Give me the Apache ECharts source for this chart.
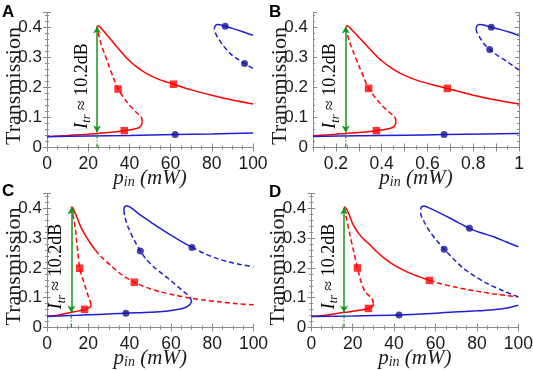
<!DOCTYPE html>
<html><head><meta charset="utf-8">
<script src="https://cdn.jsdelivr.net/npm/echarts@6/dist/echarts.min.js"></script>
<style>html,body{margin:0;padding:0;background:#fff}#c{width:533px;height:370px}</style>
</head><body><div id="c"></div>
<script>
// ---------- Panel A (p_in in mW) ----------
const aRedLow = [[0,0.037],[10,0.040],[20,0.044],[24.3,0.047],[30,0.050],[37.5,0.056],[42,0.061],[44.5,0.066],[45.6,0.072],[46.1,0.080],[46.2,0.087]];
const aRedMid = [[46.2,0.087],[46,0.097],[45.2,0.106],[42.9,0.12],[39,0.15],[34.5,0.195],[32,0.237],[29.9,0.275],[27.8,0.315],[25.9,0.353],[24.8,0.385],[24.3,0.405]];
const aRedUp = [[24.3,0.405],[25,0.405],[26,0.400],[27.5,0.388],[29.5,0.372],[31.5,0.356],[34,0.335],[37,0.311],[40,0.289],[44,0.266],[48,0.248],[54,0.228],[61.4,0.211],[70,0.192],[80,0.174],[90,0.158],[100,0.145]];
const aBlueLow = [[0,0.036],[20,0.038],[40,0.040],[62.2,0.043],[80,0.045],[100,0.048]];
const aBlueMid = [[100,0.264],[95.9,0.28],[92,0.297],[89,0.313],[85.5,0.34],[83,0.366],[81.6,0.384],[81.2,0.396]];
const aBlueUp = [[81.2,0.396],[81.6,0.405],[82.6,0.41],[84,0.409],[86.5,0.404],[90,0.397],[95,0.386],[100,0.374]];
const aRedMarks = [[37.5,0.056],[34.5,0.195],[61.4,0.211]];
const aBlueMarks = [[62.2,0.043],[86.5,0.404],[95.9,0.28]];
// ---------- Panel B ----------
const bRedLow = [[0.1,0.039],[0.2,0.044],[0.243,0.047],[0.3,0.050],[0.377,0.056],[0.42,0.061],[0.445,0.066],[0.456,0.072],[0.461,0.080],[0.462,0.087]];
const bRedMid = [[0.462,0.087],[0.46,0.097],[0.452,0.106],[0.429,0.12],[0.39,0.15],[0.343,0.197],[0.32,0.237],[0.299,0.275],[0.278,0.315],[0.259,0.353],[0.248,0.385],[0.243,0.405]];
const bRedUp = [[0.243,0.405],[0.25,0.405],[0.26,0.400],[0.275,0.388],[0.295,0.372],[0.315,0.356],[0.34,0.335],[0.37,0.311],[0.40,0.289],[0.44,0.266],[0.48,0.248],[0.54,0.228],[0.614,0.211],[0.687,0.197],[0.8,0.174],[0.9,0.158],[1,0.145]];
const bBlueLow = [[0.1,0.037],[0.3,0.039],[0.5,0.041],[0.673,0.043],[0.85,0.045],[1,0.047]];
const bBlueMid = [[1,0.258],[0.95,0.285],[0.9,0.31],[0.872,0.327],[0.85,0.343],[0.83,0.365],[0.816,0.384],[0.812,0.396]];
const bBlueUp = [[0.812,0.396],[0.816,0.405],[0.826,0.41],[0.84,0.409],[0.879,0.401],[0.92,0.393],[0.96,0.384],[1,0.373]];
const bRedMarks = [[0.377,0.056],[0.343,0.197],[0.687,0.197]];
const bBlueMarks = [[0.673,0.043],[0.879,0.401],[0.872,0.327]];
// ---------- Panel C ----------
const cRedLow = [[0,0.037],[5,0.041],[11.8,0.051],[15,0.055],[18.2,0.061],[20,0.065],[21,0.070],[21.3,0.076]];
const cRedMid = [[21.3,0.076],[21.1,0.084],[20.6,0.092],[19.6,0.113],[18.5,0.137],[17.1,0.168],[15.8,0.199],[15,0.25],[14.2,0.3],[13.7,0.333],[12.8,0.37],[12.1,0.395],[11.8,0.405]];
const cRedUp = [[11.8,0.405],[12.3,0.404],[13.2,0.392],[14.5,0.37],[16.1,0.342],[18.5,0.31],[21,0.283],[23.4,0.26]];
const cRedUpDash = [[23.4,0.26],[26.5,0.236],[30.6,0.21],[36,0.178],[42.3,0.152],[48,0.135],[54.8,0.12],[61,0.11],[67.8,0.101],[75,0.093],[83.9,0.086],[92,0.08],[100,0.076]];
const cBlueLow = [[0,0.037],[15,0.041],[25,0.044],[38.2,0.048],[50,0.051],[56,0.054],[61,0.058],[64.5,0.062],[67.3,0.068],[69.2,0.077],[70,0.088]];
const cBlueMid = [[70,0.088],[69.6,0.097],[68.3,0.109],[65.3,0.126],[59.7,0.159],[55.5,0.182],[51.6,0.204],[48,0.23],[45.2,0.257],[42.5,0.29],[39.5,0.333],[37.8,0.37],[37.2,0.394]];
const cBlueUp = [[37.2,0.394],[37.5,0.405],[38.5,0.409],[40.5,0.403],[45.2,0.378],[50,0.355],[54.8,0.333],[60,0.31],[65,0.289],[70.2,0.269]];
const cBlueUpDash = [[70.2,0.269],[76,0.249],[82.3,0.232],[88,0.22],[94,0.211],[100,0.204]];
const cRedMarks = [[18.2,0.061],[15.8,0.199],[42.3,0.152]];
const cBlueMarks = [[38.2,0.048],[45.2,0.257],[70.2,0.269]];
// ---------- Panel D ----------
const dRedLow = [[0,0.037],[8,0.042],[15.8,0.051],[22,0.056],[27.6,0.064],[29.2,0.069],[29.9,0.075],[30,0.081]];
const dRedMid = [[30,0.081],[29.6,0.092],[28.5,0.103],[26,0.12],[24,0.155],[22.3,0.2],[20.5,0.255],[18.7,0.31],[17.3,0.355],[16.3,0.39],[15.8,0.405]];
const dRedUp = [[15.8,0.405],[16.4,0.404],[17.4,0.393],[18.7,0.372],[20.3,0.344],[24,0.306],[28.4,0.277],[32.3,0.25],[36.5,0.226],[41,0.205],[46.2,0.187],[52,0.171],[57.1,0.158]];
const dRedUpDash = [[57.1,0.158],[62,0.148],[68.7,0.137],[75,0.128],[81.6,0.12],[90,0.111],[100,0.103]];
const dBlueLow = [[0,0.037],[20,0.039],[42.4,0.042],[60,0.048],[68.7,0.052],[80,0.056],[88,0.06],[94,0.065],[100,0.075]];
const dBlueMid = [[100,0.103],[93,0.122],[84.9,0.148],[79,0.172],[73.5,0.199],[68.5,0.232],[64.2,0.263],[60.5,0.293],[57.4,0.321],[54.5,0.355],[52.8,0.385],[52.8,0.396]];
const dBlueUp = [[52.8,0.396],[53.3,0.405],[54.5,0.408],[57.4,0.4],[62,0.385],[68.7,0.361],[76.4,0.333],[82,0.318],[88,0.305],[94,0.288],[100,0.271]];
const dRedMarks = [[27.6,0.064],[22.3,0.2],[57.1,0.158]];
const dBlueMarks = [[42.4,0.042],[64.2,0.263],[76.4,0.333]];
// ---------- Green arrows (x position, low end, high end) ----------
const greenX = [24.3, 0.243, 11.8, 15.8];
const greenLow = 0.05, greenHigh = 0.403;
const panelLetters = ['A','B','C','D'];
const annotationText = '{i|I}{s|tr}{n| ≈ 10.2dB}';
const yTickLabels = ['0','0.1','0.2','0.3','0.4'];

const RED = '#ff0000', BLUE = '#1f1fd6', BLUEDOT = '#14149a', GREEN = '#14961e';
const SANS = 'Liberation Sans', SERIF = 'Liberation Serif';
const AXC = '#8a8a8a';

const grids = [
  {left:47, top:12.5, width:206, height:135, outerBoundsMode:'none', containLabel:false},
  {left:313, top:12.5, width:206, height:135, outerBoundsMode:'none', containLabel:false},
  {left:47, top:193.5, width:206.5, height:134, outerBoundsMode:'none', containLabel:false},
  {left:311.3, top:193.5, width:207, height:134, outerBoundsMode:'none', containLabel:false}
];
const panels = [
  {segs:[[aRedLow,RED,0],[aRedMid,RED,1],[aRedUp,RED,0],[aBlueLow,BLUE,0],[aBlueMid,BLUE,1],[aBlueUp,BLUE,0]], rm:aRedMarks, bm:aBlueMarks, x:{min:0,max:100,interval:20,minor:4}},
  {segs:[[bRedLow,RED,0],[bRedMid,RED,1],[bRedUp,RED,0],[bBlueLow,BLUE,0],[bBlueMid,BLUE,1],[bBlueUp,BLUE,0]], rm:bRedMarks, bm:bBlueMarks, x:{min:0.1,max:1,interval:0.1,minor:2,even:true}},
  {segs:[[cRedLow,RED,0],[cRedMid,RED,1],[cRedUp,RED,0],[cRedUpDash,RED,1],[cBlueLow,BLUE,0],[cBlueMid,BLUE,1],[cBlueUp,BLUE,0],[cBlueUpDash,BLUE,1]], rm:cRedMarks, bm:cBlueMarks, x:{min:0,max:100,interval:20,minor:4}},
  {segs:[[dRedLow,RED,0],[dRedMid,RED,1],[dRedUp,RED,0],[dRedUpDash,RED,1],[dBlueLow,BLUE,0],[dBlueMid,BLUE,1],[dBlueUp,BLUE,0]], rm:dRedMarks, bm:dBlueMarks, x:{min:0,max:100,interval:20,minor:4}}
];

const xAxes = [], yAxes = [], series = [];
const tickBase = {show:true, inside:true, length:4, lineStyle:{color:AXC}};
const minorBase = {show:true, length:2, lineStyle:{color:AXC}};
panels.forEach((p, g) => {
  const xf = p.x.even
    ? (v) => (Math.round(v*10) % 2 === 0 ? String(+v.toFixed(1)) : '')
    : (v) => String(Math.round(v));
  xAxes.push({
    gridIndex:g, type:'value', position:'bottom', min:p.x.min, max:p.x.max, interval:p.x.interval,
    axisLine:{show:true, lineStyle:{color:AXC, width:1}}, axisTick:tickBase,
    minorTick:Object.assign({splitNumber:p.x.minor}, minorBase), splitLine:{show:false},
    axisLabel:{show:true, margin:8, fontFamily:SANS, fontSize:17.5, color:'#1a1a1a', formatter:xf, showMinLabel:true, showMaxLabel:true, hideOverlap:false},
    name:'{p|p}{s|in}{t| (mW)}', nameLocation:'middle', nameGap:20, nameMoveOverlap:false,
    nameTextStyle:{rich:{
      p:{fontFamily:SERIF, fontStyle:'italic', fontSize:21, color:'#1a1a1a', verticalAlign:'top', lineHeight:22},
      s:{fontFamily:SERIF, fontStyle:'italic', fontSize:14, color:'#1a1a1a', verticalAlign:'bottom', lineHeight:14, padding:[11,0,0,0]},
      t:{fontFamily:SERIF, fontStyle:'italic', fontSize:21, color:'#1a1a1a', verticalAlign:'top', lineHeight:22}
    }}
  });
  xAxes.push({
    gridIndex:g, type:'value', position:'top', min:p.x.min, max:p.x.max, interval:p.x.interval,
    axisLine:{show:true, lineStyle:{color:AXC, width:1}}, axisTick:tickBase,
    minorTick:Object.assign({splitNumber:p.x.minor}, minorBase), splitLine:{show:false}, axisLabel:{show:false}
  });
  yAxes.push({
    gridIndex:g, type:'value', position:'left', min:0, max:0.45, interval:0.1,
    axisLine:{show:true, lineStyle:{color:AXC, width:1}}, axisTick:tickBase,
    minorTick:Object.assign({splitNumber:5}, minorBase), splitLine:{show:false},
    axisLabel:{show:true, margin:5, fontFamily:SANS, fontSize:17, color:'#1a1a1a', hideOverlap:false,
      formatter:(v) => { const k = Math.round(v*10); return Math.abs(v*10-k) < 1e-6 && k < yTickLabels.length ? yTickLabels[k] : ''; }},
    name:'Transmission', nameLocation:'middle', nameGap:22, nameMoveOverlap:false,
    nameTextStyle:{fontFamily:SERIF, fontSize:22, color:'#1a1a1a', padding:[0,12,0,0]}
  });
  yAxes.push({
    gridIndex:g, type:'value', position:'right', min:0, max:0.45, interval:0.1,
    axisLine:{show:true, lineStyle:{color:AXC, width:1}}, axisTick:tickBase,
    minorTick:Object.assign({splitNumber:5}, minorBase), splitLine:{show:false}, axisLabel:{show:false}
  });
  p.segs.forEach(([data, color, dashed]) => {
    series.push({type:'line', xAxisIndex:2*g, yAxisIndex:2*g, data:data, smooth:0.3, showSymbol:false, symbol:'none',
      silent:true, z:3, lineStyle:{color:color, width:1.5, type: dashed ? [5,3] : 'solid'}});
  });
  const gx = greenX[g];
  series.push({type:'line', xAxisIndex:2*g, yAxisIndex:2*g, data:[[gx,0],[gx,greenLow]], showSymbol:false, symbol:'none', silent:true, z:4,
    lineStyle:{color:GREEN, width:1.3, type:[4,2,1,2]},
    markLine:{silent:true, symbol:['arrow','arrow'], symbolSize:[6,7], label:{show:false},
      lineStyle:{color:GREEN, width:1.5, type:'solid'}, emphasis:{disabled:true},
      data:[[{coord:[gx,greenLow]},{coord:[gx,greenHigh]}]]}});
  series.push({type:'scatter', xAxisIndex:2*g, yAxisIndex:2*g, data:p.rm, symbol:'rect', symbolSize:7.5, silent:true, z:5, itemStyle:{color:RED}});
  series.push({type:'scatter', xAxisIndex:2*g, yAxisIndex:2*g, data:p.bm, symbol:'circle', symbolSize:7, silent:true, z:5, itemStyle:{color:BLUEDOT}});
});

const letterPos = [[2,4],[269,4],[2,183],[269,184]];
const chart = echarts.init(document.getElementById('c'), null, {renderer:'canvas'});
chart.setOption({animation:false, grid:grids, xAxis:xAxes, yAxis:yAxes, series:series});

const graphics = [];
panelLetters.forEach((L, i) => {
  graphics.push({type:'text', left:letterPos[i][0], top:letterPos[i][1], silent:true,
    style:{text:L, fontFamily:SANS, fontWeight:'bold', fontSize:17, fill:'#000'}});
});
const annY = 0.205;
greenX.forEach((gx, g) => {
  const pt = chart.convertToPixel({gridIndex:g}, [gx, annY]);
  graphics.push({type:'text', x:pt[0]-14, y:pt[1], rotation:Math.PI/2, silent:true, z:10,
    style:{text:annotationText, align:'center', verticalAlign:'middle', fill:'#000',
      rich:{
        i:{fontFamily:SERIF, fontStyle:'italic', fontSize:18, lineHeight:20, verticalAlign:'top', fill:'#000'},
        s:{fontFamily:SERIF, fontStyle:'italic', fontSize:12, lineHeight:12, verticalAlign:'bottom', padding:[10,0,0,0], fill:'#000'},
        n:{fontFamily:SERIF, fontSize:18, lineHeight:20, verticalAlign:'top', fill:'#000'}
      }}});
});
chart.setOption({graphic:graphics});
</script></body></html>
